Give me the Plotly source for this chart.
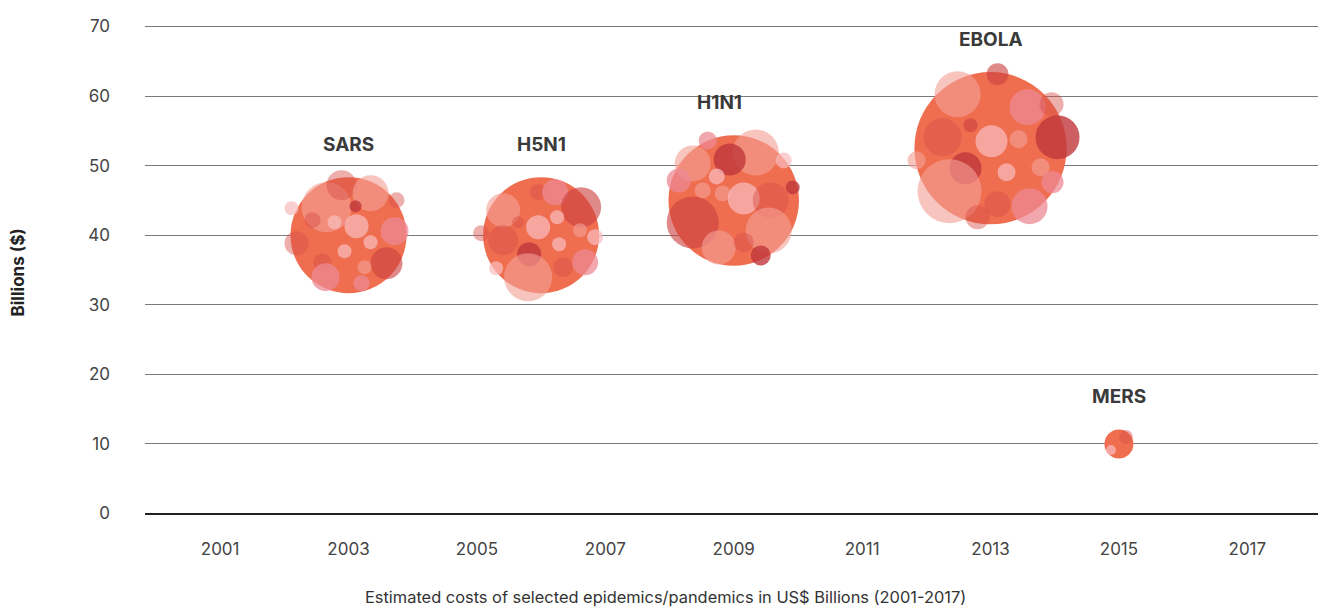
import plotly.graph_objects as go

# ---- data ----
diseases = ["SARS", "H5N1", "H1N1", "EBOLA", "MERS"]
years = [2003, 2006, 2009, 2013, 2015]
costs = [40, 40, 45, 52.5, 10]          # US$ billions
x_ticks = [2001, 2003, 2005, 2007, 2009, 2011, 2013, 2015, 2017]
y_ticks = [0, 10, 20, 30, 40, 50, 60, 70]

# ---- style ----
MAIN = "#F06E50"
SIZEREF = 1 / 2.9
PAL = {
    "L": "rgba(248,188,188,0.72)",
    "C": "rgba(243,160,150,0.62)",
    "P": "rgba(238,138,148,0.75)",
    "M": "rgba(212,78,72,0.45)",
    "R": "rgba(205,65,65,0.62)",
    "D": "rgba(192,55,60,0.80)",
}
# decorative texture circles: (dx px, dy px (down), radius px, colour key), relative to bubble centre
DECOR = {
    "SARS": [(-22, -28, 25, "C"), (-7, -50, 15, "M"), (22, -42, 18, "C"), (48, -35, 8, "M"),
             (7, -29, 6, "D"), (-57, -27, 7, "L"), (-36, -15, 8, "M"), (-14, -13, 7, "L"),
             (8, -9, 12, "L"), (46, -4, 14, "P"), (-52, 8, 12, "M"), (22, 7, 7, "L"),
             (-4, 16, 7, "L"), (38, 28, 16, "R"), (-26, 27, 9, "M"), (-23, 42, 14, "P"),
             (16, 32, 7, "C"), (13, 48, 8, "P")],
    "H5N1": [(-38, -25, 17, "C"), (-3, -43, 8, "M"), (14, -43, 13, "P"), (40, -28, 20, "R"),
             (-23, -13, 6, "M"), (-3, -8, 12, "L"), (16, -18, 7, "L"), (-60, -2, 8, "M"),
             (-38, 5, 15, "M"), (39, -5, 7, "C"), (54, 2, 8, "L"), (18, 9, 7, "L"),
             (-12, 19, 12, "D"), (-13, 42, 24, "C"), (-45, 33, 7, "L"), (22, 32, 10, "M"),
             (44, 27, 13, "P")],
    "H1N1": [(-41, -37, 18, "C"), (-26, -60, 9, "P"), (22, -48, 23, "C"), (-4, -41, 16, "D"),
             (50, -40, 8, "L"), (-55, -20, 12, "P"), (-17, -24, 8, "L"), (-31, -10, 8, "C"),
             (-11, -7, 8, "C"), (10, -2, 16, "L"), (37, 0, 18, "M"), (59, -13, 7, "D"),
             (-41, 22, 26, "R"), (35, 30, 23, "C"), (-15, 47, 17, "C"), (10, 42, 10, "M"),
             (27, 55, 10, "D")],
    "EBOLA": [(-33, -54, 23, "C"), (7, -74, 11, "R"), (37, -41, 18, "P"), (61, -44, 12, "M"),
              (-48, -11, 19, "M"), (-20, -23, 7, "R"), (1, -7, 16, "L"), (28, -9, 9, "C"),
              (67, -11, 22, "D"), (-74, 12, 9, "C"), (-25, 20, 16, "D"), (16, 24, 9, "L"),
              (50, 19, 9, "C"), (62, 34, 11, "P"), (-41, 43, 32, "C"), (7, 56, 13, "M"),
              (39, 58, 18, "P"), (-13, 69, 12, "M")],
    "MERS": [(7, -7, 7, "M"), (-8, 6, 5, "L")],
}
LABEL_XSHIFT = {"H1N1": -14}

FONT = "Inter"

fig = go.Figure()
fig.add_trace(go.Scatter(
    x=years, y=costs, mode="markers",
    marker=dict(size=costs, sizemode="diameter", sizeref=SIZEREF, color=MAIN,
                line=dict(width=0), opacity=1),
    hoverinfo="text", text=diseases, cliponaxis=False, showlegend=False,
))

shapes = []
annotations = []
for name, yr, c in zip(diseases, years, costs):
    for dx, dy, r, k in DECOR[name]:
        shapes.append(dict(
            type="circle", layer="above", xref="x", yref="y",
            xsizemode="pixel", ysizemode="pixel", xanchor=yr, yanchor=c,
            x0=dx - r, x1=dx + r, y0=-dy - r, y1=-dy + r,
            fillcolor=PAL[k], line=dict(width=0),
        ))
    radius_px = c / SIZEREF / 2
    annotations.append(dict(
        x=yr, y=c, xref="x", yref="y", text="<b>%s</b>" % name, showarrow=False,
        yanchor="bottom", yshift=radius_px + 19, xshift=LABEL_XSHIFT.get(name, 0),
        font=dict(family=FONT, size=19, color="#3a3a3a"),
    ))

# plot area: x 137..1326 (width 1189), y 14.5..509.5 (height 495) in figure px
annotations.append(dict(
    x=(10 - 137) / 1189, y=(509.5 - 264.5) / 495, xref="paper", yref="paper",
    text="<b>Billions ($)</b>",
    textangle=-90, showarrow=False, xanchor="center", yanchor="middle",
    font=dict(family=FONT, size=17, color="#222"),
))
annotations.append(dict(
    x=(657 - 137) / 1189, y=(509.5 - 590) / 495, xref="paper", yref="paper",
    text="Estimated costs of selected epidemics/pandemics in US$ Billions (2001-2017)",
    showarrow=False, xanchor="center", yanchor="middle",
    font=dict(family=FONT, size=16.4, color="#333"),
))

fig.update_layout(
    width=1326, height=607,
    margin=dict(l=137, r=0, t=14.5, b=97.5),
    paper_bgcolor="white", plot_bgcolor="white",
    shapes=shapes, annotations=annotations,
    font=dict(family=FONT, size=17, color="#444"),
    xaxis=dict(range=[1999.83, 2018.35], tickvals=x_ticks, ticktext=[str(t) for t in x_ticks],
               showgrid=False, zeroline=False, showline=False, ticks="",
               ticklabelstandoff=20, tickfont=dict(family=FONT, size=17, color="#444")),
    yaxis=dict(range=[-0.5, 70.5], tickvals=y_ticks, showgrid=True, gridcolor="#7a7a7a",
               gridwidth=1, zeroline=True, zerolinecolor="#222", zerolinewidth=1.5,
               showline=False, ticks="", ticklabelstandoff=34,
               tickfont=dict(family=FONT, size=17, color="#444")),
)

fig.write_html("out.html")
